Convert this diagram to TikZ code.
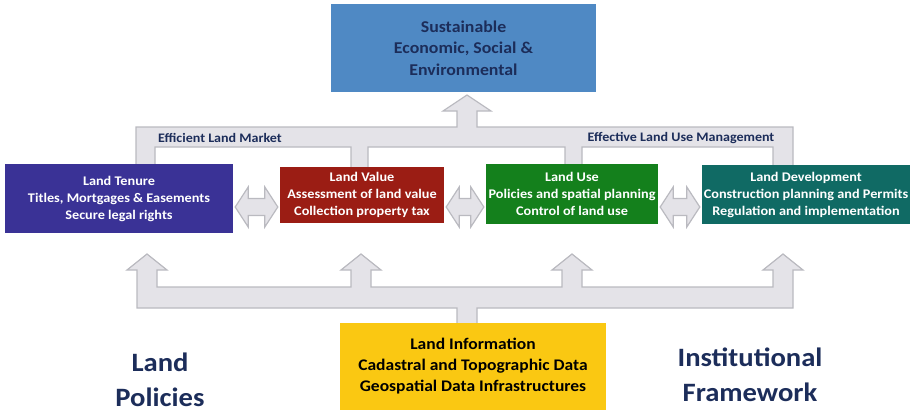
\documentclass[tikz,border=0pt]{standalone}
\usepackage{fontspec}
\setmainfont{Carlito}[FakeStretch=1.08]
\usepackage{tikz}
\usetikzlibrary{calc}
\definecolor{goalblue}{RGB}{79,137,196}
\definecolor{tenureblue}{RGB}{58,50,150}
\definecolor{valuered}{RGB}{155,29,20}
\definecolor{usegreen}{RGB}{20,128,28}
\definecolor{develteal}{RGB}{16,106,100}
\definecolor{infoyellow}{RGB}{250,200,18}
\definecolor{pipefill}{RGB}{228,227,232}
\definecolor{pipeline}{RGB}{186,186,192}
\definecolor{navy}{RGB}{28,45,90}

\begin{document}
\begin{tikzpicture}[
    x=1pt, y=1pt,
    box/.style={rectangle, inner sep=0pt, align=center, text=white, font=\bfseries\fontsize{13.2}{17}\selectfont},
    pipe/.style={draw=pipeline, fill=pipefill, line width=1.2pt, line join=miter},
    bar/.style={text=navy, font=\bfseries\fontsize{13}{15}\selectfont},
    side/.style={align=center, text=navy, font=\bfseries\fontsize{26.5}{35}\selectfont}
]
\useasboundingbox (0,0) rectangle (912,-412);

% frame joining the four boxes, arrow up to the goal
\draw[pipe] (136,-175) -- (136,-127) -- (457,-127) -- (457,-111) -- (443,-111) -- (467,-95)
    -- (491,-111) -- (477,-111) -- (477,-127) -- (793,-127) -- (793,-175) -- (773,-175)
    -- (773,-147) -- (582,-147) -- (582,-175) -- (565,-175) -- (565,-147) -- (368,-147)
    -- (368,-175) -- (351,-175) -- (351,-147) -- (155,-147) -- (155,-175) -- cycle;

% frame from land information up to the four boxes
\draw[pipe] (137,-308) -- (137,-270) -- (127,-270) -- (147,-254) -- (167,-270) -- (157,-270)
    -- (157,-287) -- (351,-287) -- (351,-270) -- (341,-270) -- (361,-254) -- (381,-270)
    -- (371,-270) -- (371,-287) -- (562,-287) -- (562,-270) -- (552,-270) -- (572,-254)
    -- (592,-270) -- (582,-270) -- (582,-287) -- (773,-287) -- (773,-270) -- (763,-270)
    -- (783,-254) -- (803,-270) -- (793,-270) -- (793,-308) -- (477,-308) -- (477,-330)
    -- (457,-330) -- (457,-308) -- cycle;

\node[box, fill=goalblue, text=navy, minimum width=265, minimum height=88,
      font=\bfseries\fontsize{16.5}{21.5}\selectfont] (goal) at (463.5,-48)
      {Sustainable\\Economic, Social \&\\Environmental};

\node[box, fill=tenureblue, minimum width=228, minimum height=69] (tenure) at (119,-198.5)
      {Land Tenure\\Titles, Mortgages \& Easements\\Secure legal rights};
\node[box, fill=valuered, minimum width=164, minimum height=56] (value) at (362,-195)
      {Land Value\\Assessment of land value\\Collection property tax};
\node[box, fill=usegreen, minimum width=172, minimum height=60] (use) at (572,-194)
      {Land Use\\Policies and spatial planning\\Control of land use};
\node[box, fill=develteal, minimum width=208, minimum height=59] (devel) at (806,-194.5)
      {Land Development\\Construction planning and Permits\\Regulation and implementation};

\node[box, fill=infoyellow, text=black, minimum width=266, minimum height=87,
      font=\bfseries\fontsize{16.2}{21}\selectfont] (info) at (473,-366.5)
      {Land Information\\Cadastral and Topographic Data\\Geospatial Data Infrastructures};

% double arrows between neighbouring boxes
\coordinate (row) at (0,-207);
\foreach \a/\b in {tenure/value, value/use, use/devel}
  \draw[pipe] let \p1=($(\a.east |- row)+(2,0)$), \p2=($(\b.west |- row)+(-2,0)$) in
    (\p1) -- (\x1+13pt,\y1+20pt) -- (\x1+13pt,\y1+8.5pt) -- (\x2-13pt,\y1+8.5pt)
    -- (\x2-13pt,\y1+20pt) -- (\p2) -- (\x2-13pt,\y1-20pt) -- (\x2-13pt,\y1-8.5pt)
    -- (\x1+13pt,\y1-8.5pt) -- (\x1+13pt,\y1-20pt) -- cycle;

% Annotations
\node[bar] (market) at (220,-138) {Efficient Land Market};
\node[bar] (manage) at (681,-138) {Effective Land Use Management};
\node[side] (policies) at (160,-380) {Land\\Policies};
\node[side] (framework) at (750,-375) {Institutional\\Framework};

\end{tikzpicture}
\end{document}
